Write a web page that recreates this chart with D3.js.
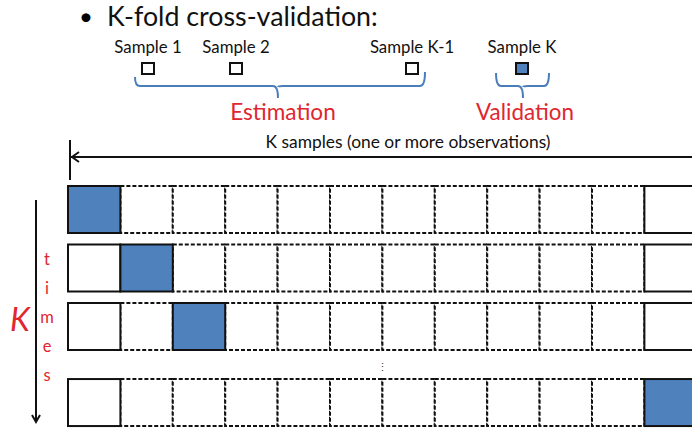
<!DOCTYPE html>
<html>
<head>
<meta charset="utf-8">
<script src="https://cdn.jsdelivr.net/npm/d3@7"></script>
<style>
  html, body { margin: 0; padding: 0; background: #fff; }
  svg { display: block; font-family: Lato, "Open Sans", sans-serif; }
</style>
</head>
<body>
<div id="viz"></div>
<script>
// samples shown above the grid
const sampleLabels = ['Sample 1', 'Sample 2', 'Sample K-1', 'Sample K']
const sampleSlots = [1, 2, 4, 5.25]          // K-1 and K sit after a gap
const sampleIsValidation = [false, false, false, true]

// one row per fold, the ellipsis row is skipped
const foldSlots = [0, 1, 2, 3.3]
const validationColumn = [0, 1, 2, 11]
const columns = d3.range(12)                // columns visible in the picture

const timesLetters = ['t', 'i', 'm', 'e', 's']

const blue = '#4f81bd'
const braceBlue = '#4a7ebb'
const red = '#e0262f'

const svg = d3.select('#viz').append('svg')
  .attr('width', 692)
  .attr('height', 428)

const x = d3.scaleBand().domain(columns).range([68, 68 + 12 * 52.4]).padding(0)
const y = d3.scaleLinear().domain([0, 1]).range([186, 244.5])
const rowH = 47
const sx = d3.scaleLinear().domain([1, 2]).range([148, 236])
const ty = d3.scaleLinear().domain([0, 1]).range([265, 294])

// title
svg.append('text').attr('x', 86).attr('y', 25).attr('text-anchor', 'middle')
  .attr('font-size', 24).text('•')
svg.append('text').attr('x', 107).attr('y', 26)
  .attr('font-size', 26.8).attr('fill', '#111')
  .text('K-fold cross-validation:')

// sample labels and boxes
const samples = svg.selectAll('g.sample')
  .data(sampleLabels.map((d, i) => ({ label: d, slot: sampleSlots[i], val: sampleIsValidation[i] })))
  .enter().append('g')
  .attr('class', 'sample')
  .attr('transform', d => 'translate(' + sx(d.slot) + ',0)')

samples.append('text')
  .attr('y', 53)
  .attr('text-anchor', 'middle')
  .attr('font-size', 16.8)
  .attr('fill', '#111')
  .text(d => d.label)

samples.append('rect')
  .attr('x', -6).attr('y', 63)
  .attr('width', 12).attr('height', 11)
  .attr('fill', d => d.val ? blue : '#fff')
  .attr('stroke', '#111')
  .attr('stroke-width', 2)

// curly braces
function brace (x0, x1, xc, yTop0, yTop1, yMid, yTip) {
  const r = 5
  return 'M' + x0 + ',' + yTop0 +
    ' Q' + x0 + ',' + yMid + ' ' + (x0 + r) + ',' + yMid +
    ' L' + (xc - r) + ',' + yMid +
    ' Q' + xc + ',' + yMid + ' ' + xc + ',' + yTip +
    ' M' + xc + ',' + (yMid + 1) +
    ' Q' + xc + ',' + yMid + ' ' + (xc + r) + ',' + yMid +
    ' L' + (x1 - r) + ',' + yMid +
    ' Q' + x1 + ',' + yMid + ' ' + x1 + ',' + yTop1
}

const estLeft = sx(sampleSlots[0]) - 13
const estRight = sx(sampleSlots[2]) + 13
svg.append('path')
  .attr('d', brace(estLeft, estRight, 278, 77, 72, 86, 98))
  .attr('fill', 'none').attr('stroke', braceBlue).attr('stroke-width', 2)

const valX = sx(sampleSlots[3])
svg.append('path')
  .attr('d', brace(valX - 26, valX + 27, valX + 1, 73, 73, 86, 98))
  .attr('fill', 'none').attr('stroke', braceBlue).attr('stroke-width', 2)

svg.append('text').attr('x', 283).attr('y', 120).attr('text-anchor', 'middle')
  .attr('font-size', 22.6).attr('fill', red).text('Estimation')
svg.append('text').attr('x', 525).attr('y', 120).attr('text-anchor', 'middle')
  .attr('font-size', 22.4).attr('fill', red).text('Validation')

// K samples arrow
svg.append('line').attr('x1', 70).attr('x2', 70).attr('y1', 140).attr('y2', 180)
  .attr('stroke', '#111').attr('stroke-width', 2)
svg.append('line').attr('x1', 71).attr('x2', 692).attr('y1', 157).attr('y2', 157)
  .attr('stroke', '#111').attr('stroke-width', 2)
svg.append('path').attr('d', 'M79,152 L72,157 L79,162')
  .attr('fill', 'none').attr('stroke', '#111').attr('stroke-width', 2)
svg.append('text').attr('x', 408).attr('y', 148).attr('text-anchor', 'middle')
  .attr('font-size', 17.4).attr('fill', '#111')
  .text('K samples (one or more observations)')

// fold rows
const rows = svg.selectAll('g.fold')
  .data(foldSlots.map((s, i) => ({ slot: s, val: validationColumn[i] })))
  .enter().append('g')
  .attr('class', 'fold')
  .attr('transform', d => 'translate(0,' + y(d.slot) + ')')

rows.selectAll('rect.cell')
  .data(d => columns.map(c => ({ col: c, val: d.val })))
  .enter().append('rect')
  .attr('class', 'cell')
  .attr('x', d => x(d.col))
  .attr('y', 0)
  .attr('width', x.bandwidth())
  .attr('height', rowH)
  .attr('fill', d => d.col === d.val ? blue : '#fff')
  .attr('stroke', '#111')
  .attr('stroke-width', 2)
  .attr('stroke-dasharray', d => (d.col === 0 || d.col === 11 || d.col === d.val) ? null : '4,2')

// solid cells on top so their edges are not broken by dashes
rows.each(function () {
  const g = d3.select(this)
  g.selectAll('rect.cell').filter(d => d.col === 0 || d.col === 11 || d.col === d.val).raise()
  g.selectAll('rect.cell').filter(d => d.col === d.val).raise()
})

// ellipsis between rows
svg.append('text').attr('x', 382).attr('y', 371).attr('text-anchor', 'middle')
  .attr('font-size', 11).attr('fill', '#444').text('⋮')

// K times arrow
svg.append('line').attr('x1', 36).attr('x2', 36).attr('y1', 200).attr('y2', 422)
  .attr('stroke', '#111').attr('stroke-width', 2)
svg.append('path').attr('d', 'M32,415 L36,422 L40,415')
  .attr('fill', 'none').attr('stroke', '#111').attr('stroke-width', 2)

svg.selectAll('text.times')
  .data(timesLetters)
  .enter().append('text')
  .attr('class', 'times')
  .attr('x', 47)
  .attr('y', (d, i) => ty(i))
  .attr('text-anchor', 'middle')
  .attr('font-size', 16.5)
  .attr('fill', red)
  .text(d => d)

svg.append('text').attr('x', 20).attr('y', 331).attr('text-anchor', 'middle')
  .attr('font-size', 32).attr('font-style', 'italic').attr('fill', red).text('K')
</script>
</body>
</html>
